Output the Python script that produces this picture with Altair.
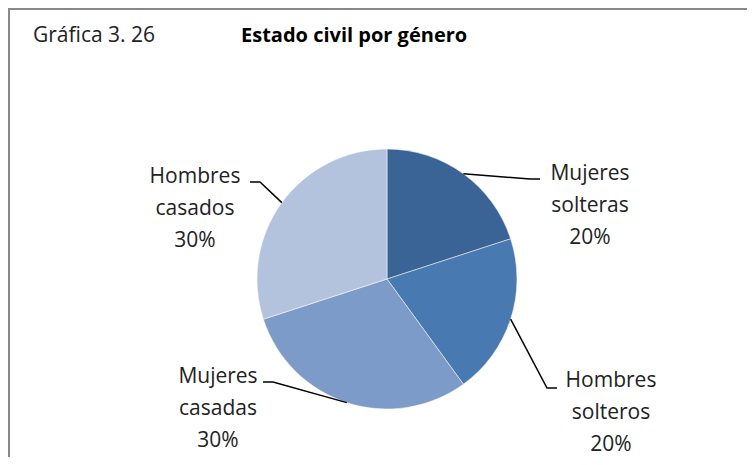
import altair as alt
import pandas as pd
import numpy as np

# ---- data ----
categories = ["Mujeres solteras", "Hombres solteros", "Mujeres casadas", "Hombres casados"]
values = [20, 20, 30, 30]
label_lines = [["Mujeres", "solteras"], ["Hombres", "solteros"], ["Mujeres", "casadas"], ["Hombres", "casados"]]
colors = ["#3B6496", "#4879B1", "#7D9BC8", "#B3C3DE"]
title_left = "Gráfica 3. 26"
title_right = "Estado civil por género"

# ---- layout (chart coords = page coords - 8) ----
W, H = 739, 449
CX, CY, R = 379, 271, 130
elbows = [(522, 171), (539, 380), (265, 374), (252, 174)]
ends = [(532, 171), (549, 380), (255, 374), (242, 174)]
label_pos = [(582, 172), (603, 379), (210, 375), (187, 175)]
FONT = "Open Sans"

total = sum(values)
cum = np.cumsum([0] + values)
mids = [(cum[i] + values[i] / 2) / total * 2 * np.pi for i in range(len(values))]

pie_df = pd.DataFrame({"cat": categories, "value": values, "ord": list(range(len(values)))})

line_rows = []
for i, c in enumerate(categories):
    sx = CX + R * np.sin(mids[i])
    sy = CY - R * np.cos(mids[i])
    pts = [(sx, sy), elbows[i], ends[i]]
    for k, (px, py) in enumerate(pts):
        line_rows.append({"cat": c, "k": k, "px": float(px), "py": float(py)})
line_df = pd.DataFrame(line_rows)

lab_df = pd.DataFrame({
    "cat": categories,
    "txt": ["\n".join(label_lines[i] + [f"{values[i]}%"]) for i in range(len(values))],
    "px": [p[0] for p in label_pos],
    "py": [p[1] for p in label_pos],
})

border_top = alt.Chart(pd.DataFrame({"a": [0]})).mark_rule(color="#888888", strokeWidth=2).encode(
    x=alt.value(0), x2=alt.value(W), y=alt.value(1))
border_left = alt.Chart(pd.DataFrame({"a": [0]})).mark_rule(color="#888888", strokeWidth=2).encode(
    x=alt.value(1), y=alt.value(0), y2=alt.value(H))

pie = alt.Chart(pie_df).mark_arc(outerRadius=R, stroke="white", strokeWidth=0.5).encode(
    theta=alt.Theta("value:Q", stack=True),
    order=alt.Order("ord:Q"),
    color=alt.Color("cat:N", scale=alt.Scale(domain=categories, range=colors), legend=None),
    x=alt.value(CX), y=alt.value(CY),
)

lines = alt.Chart(line_df).mark_line(color="black", strokeWidth=1.5).encode(
    x=alt.X("px:Q", scale=None, axis=None),
    y=alt.Y("py:Q", scale=None, axis=None),
    detail="cat:N",
    order="k:Q",
)

labels = alt.Chart(lab_df).mark_text(
    font=FONT, fontSize=21, color="#222222", align="center", baseline="alphabetic",
    lineBreak="\n", lineHeight=32,
).encode(
    x=alt.X("px:Q", scale=None, axis=None),
    y=alt.Y("py:Q", scale=None, axis=None),
    text="txt:N",
)

t1 = alt.Chart(pd.DataFrame({"t": [title_left]})).mark_text(
    font=FONT, fontSize=21, color="#222222", align="left", baseline="alphabetic"
).encode(x=alt.value(25), y=alt.value(34), text="t:N")
t2 = alt.Chart(pd.DataFrame({"t": [title_right]})).mark_text(
    font=FONT, fontSize=20, fontWeight="bold", color="#000000", align="left", baseline="alphabetic"
).encode(x=alt.value(233), y=alt.value(34), text="t:N")

chart = alt.layer(border_top, border_left, pie, lines, labels, t1, t2).properties(
    width=W, height=H, padding=0, autosize=alt.AutoSizeParams(type="none")
).configure_view(stroke=None)

chart.save("out.html", embed_options={"renderer": "svg", "actions": False})
